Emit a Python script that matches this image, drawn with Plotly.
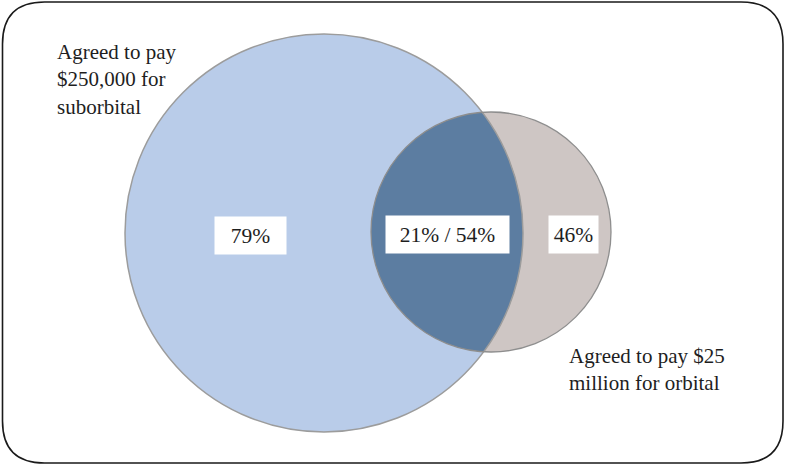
import numpy as np
import plotly.graph_objects as go

# data
set_names = ["Agreed to pay<br>$250,000 for<br>suborbital",
             "Agreed to pay $25<br>million for orbital"]
region_labels = ["79%", "21% / 54%", "46%"]

# geometry (pixel space, y grows downward)
W, H = 785, 465
big_c, big_r = (324, 233), 199
small_c, small_r = (491, 232), 120

blue = "#B9CCE9"
grey = "#CEC6C4"
dark = "#5C7DA1"
edge = "#9C9C9C"
serif = "'Times New Roman', 'Liberation Serif', 'DejaVu Serif', serif"


def lens_path(c1, r1, c2, r2, n=80):
    x1, y1 = c1
    x2, y2 = c2
    d = np.hypot(x2 - x1, y2 - y1)
    a = (r1**2 - r2**2 + d**2) / (2 * d)
    al1 = np.arccos(np.clip(a / r1, -1, 1))
    al2 = np.arccos(np.clip((d - a) / r2, -1, 1))
    ph12 = np.arctan2(y2 - y1, x2 - x1)
    ph21 = ph12 + np.pi
    t1 = np.linspace(ph12 - al1, ph12 + al1, n)
    arc1 = np.column_stack([x1 + r1 * np.cos(t1), y1 + r1 * np.sin(t1)])
    t2 = np.linspace(ph21 - al2, ph21 + al2, n)
    arc2 = np.column_stack([x2 + r2 * np.cos(t2), y2 + r2 * np.sin(t2)])
    if np.hypot(*(arc2[0] - arc1[-1])) > np.hypot(*(arc2[-1] - arc1[-1])):
        arc2 = arc2[::-1]
    pts = np.vstack([arc1, arc2])
    return "M " + " L ".join(f"{x:.2f},{y:.2f}" for x, y in pts) + " Z"


def circle(c, r, **kw):
    return dict(type="circle", xref="x", yref="y",
                x0=c[0] - r, x1=c[0] + r, y0=c[1] - r, y1=c[1] + r, **kw)


def rounded_rect(x0, y0, x1, y1, r):
    return (f"M {x0 + r},{y0} L {x1 - r},{y0} Q {x1},{y0} {x1},{y0 + r} "
            f"L {x1},{y1 - r} Q {x1},{y1} {x1 - r},{y1} "
            f"L {x0 + r},{y1} Q {x0},{y1} {x0},{y1 - r} "
            f"L {x0},{y0 + r} Q {x0},{y0} {x0 + r},{y0} Z")


shapes = [
    dict(type="path", xref="x", yref="y", path=rounded_rect(2.5, 2, 783, 463, 42),
         line=dict(color="#1a1a1a", width=1.6), layer="below"),
    circle(big_c, big_r, fillcolor=blue, line=dict(width=0)),
    circle(small_c, small_r, fillcolor=grey, line=dict(width=0)),
    dict(type="path", xref="x", yref="y",
         path=lens_path(big_c, big_r, small_c, small_r),
         fillcolor=dark, line=dict(width=0)),
    circle(big_c, big_r, line=dict(color=edge, width=1.5)),
    circle(small_c, small_r, line=dict(color="#8E8E8E", width=1.3)),
]

fig = go.Figure()
fig.add_trace(go.Scatter(x=[0, W], y=[0, H], mode="markers",
                         marker=dict(opacity=0), hoverinfo="skip",
                         showlegend=False))

label_pos = [(250, 235), (447, 234), (573.5, 234)]
label_w = [71, 123, 49]
annotations = []
for (x, y), w, txt in zip(label_pos, label_w, region_labels):
    annotations.append(dict(x=x, y=y, xref="x", yref="y", text=txt,
                            showarrow=False, xanchor="center", yanchor="middle",
                            width=w, height=37, borderpad=0, bgcolor="white",
                            font=dict(family=serif, size=21.5, color="#1e1e1e")))

annotations.append(dict(x=55, y=38, xref="x", yref="y", text=set_names[0],
                        showarrow=False, xanchor="left", yanchor="top",
                        align="left",
                        font=dict(family=serif, size=21, color="#1e1e1e")))
annotations.append(dict(x=567, y=342, xref="x", yref="y", text=set_names[1],
                        showarrow=False, xanchor="left", yanchor="top",
                        align="left",
                        font=dict(family=serif, size=21, color="#1e1e1e")))

fig.update_layout(
    width=W, height=H,
    margin=dict(l=0, r=0, t=0, b=0),
    paper_bgcolor="white", plot_bgcolor="white",
    font=dict(family=serif),
    xaxis=dict(range=[0, W], visible=False, fixedrange=True),
    yaxis=dict(range=[H, 0], visible=False, fixedrange=True),
    shapes=shapes, annotations=annotations,
    showlegend=False,
)

fig.write_html("out.html", config=dict(displayModeBar=False),
               post_script="document.body.style.margin='0';"
                           "document.body.style.overflow='hidden';")
